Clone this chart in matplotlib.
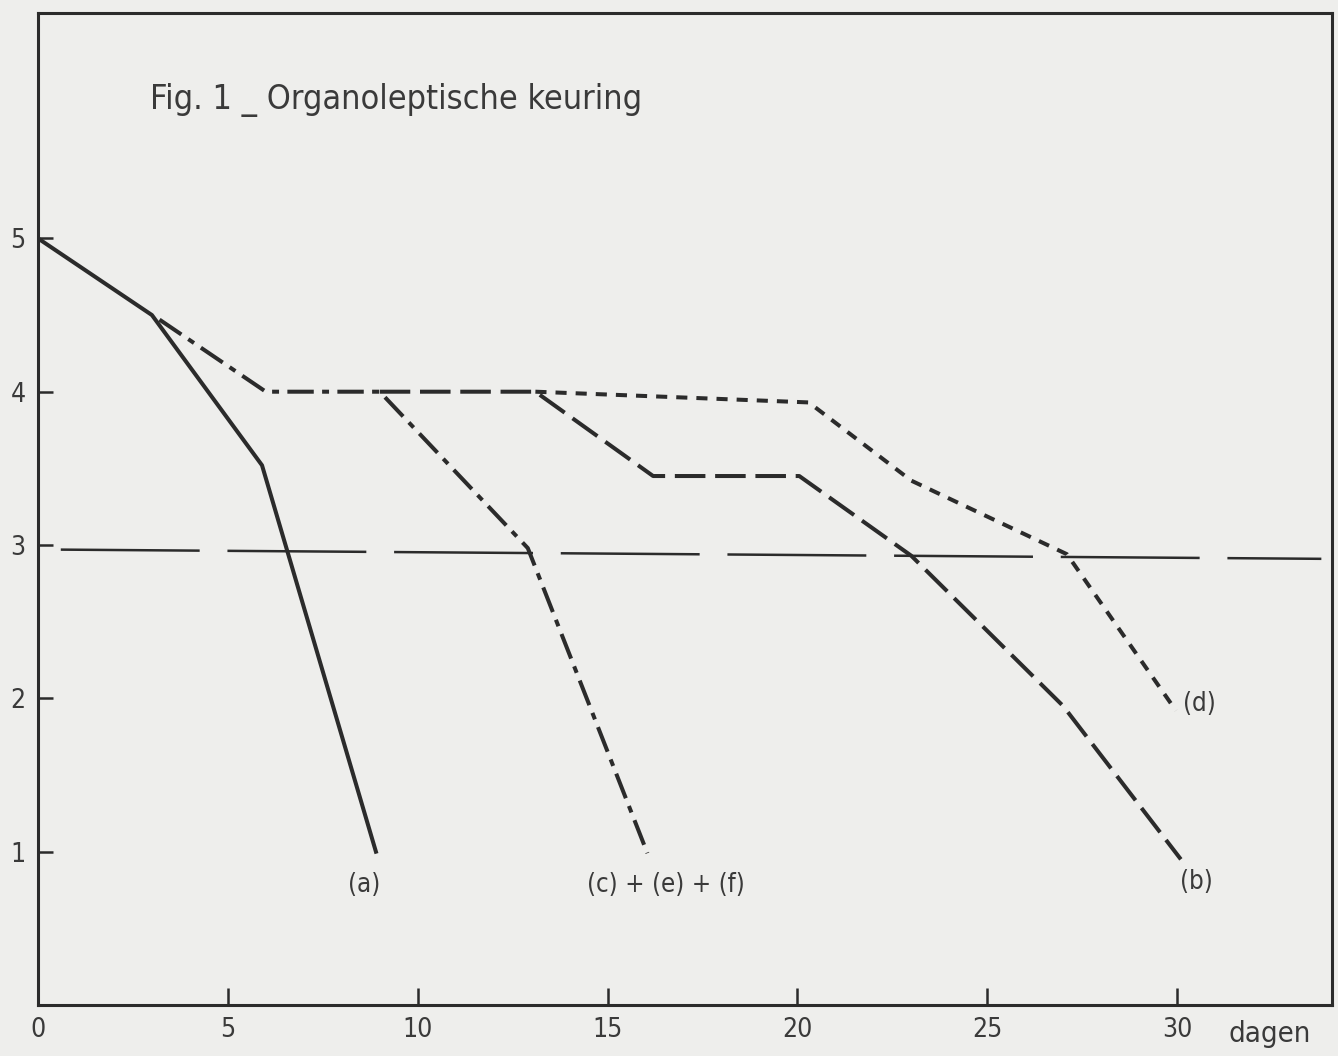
import matplotlib
matplotlib.use("Agg")
import matplotlib.pyplot as plt

# ---- data ----
a_x = [0, 3, 5.9, 8.9]
a_y = [5.0, 4.5, 3.52, 1.0]

c_x = [3.2, 6, 9, 12.9, 16.05]
c_y = [4.47, 4.0, 4.0, 2.98, 0.99]

b_x = [9, 13.1, 16.2, 20.05, 23.0, 27.0, 30.1]
b_y = [4.0, 4.0, 3.45, 3.45, 2.93, 1.95, 0.95]

d_x = [13.1, 20.3, 23.0, 27.1, 29.97]
d_y = [4.0, 3.93, 3.42, 2.94, 1.92]

thr_x = [0.6, 33.8]
thr_y = [2.97, 2.91]

x_ticks = [0, 5, 10, 15, 20, 25, 30]
y_ticks = [1, 2, 3, 4, 5]

title_text = "Fig. 1 _ Organoleptische keuring"
labels = [("(a)", 8.6, 0.78), ("(c) + (e) + (f)", 16.55, 0.78),
          ("(b)", 30.5, 0.80), ("(d)", 30.6, 1.96)]

# ---- style ----
plt.rcParams['lines.scale_dashes'] = False
plt.rcParams['font.family'] = ['DejaVu Sans']
plt.rcParams['font.stretch'] = 'condensed'
ink = '#2b2b2b'
txt = '#3a3a3a'
bg = '#eeeeec'

fig = plt.figure(figsize=(13.38, 10.56), dpi=100, facecolor=bg)
ax = fig.add_axes([0.0284, 0.0483, 0.9671, 0.9394], facecolor=bg)
ax.set_xlim(0, 34.08)
ax.set_ylim(0, 6.47)

for s in ax.spines.values():
    s.set_linewidth(2.2)
    s.set_color(ink)

ax.plot(thr_x, thr_y, color=ink, lw=1.8, dashes=(100, 20))
ax.plot(a_x, a_y, color=ink, lw=2.9, solid_joinstyle='round')
ax.plot(c_x, c_y, color=ink, lw=2.9, dashes=(19, 6, 5, 6))
ax.plot(b_x, b_y, color=ink, lw=2.9, dashes=(22, 7))
ax.plot(d_x, d_y, color=ink, lw=2.9, dashes=(8, 6.5))

ax.set_xticks(x_ticks)
ax.set_xticklabels([str(v) for v in x_ticks])
ax.set_yticks(y_ticks)
ax.set_yticklabels([str(v) for v in y_ticks])
ax.tick_params(axis='x', direction='in', length=12, width=1.8, color=ink,
               labelsize=19, labelcolor=txt, pad=9)
ax.tick_params(axis='y', direction='in', length=11, width=1.8, color=ink,
               labelsize=19, labelcolor=txt, pad=9)

ax.text(32.45, -0.1, "dagen", ha='center', va='top', fontsize=21,
        color=txt, clip_on=False)

ax.text(2.95, 5.9, title_text, ha='left', va='center', fontsize=24.5,
        color=txt)

for s, x, y in labels:
    ax.text(x, y, s, ha='center', va='center', fontsize=18.5, color=txt)

fig.savefig("out.png", dpi=100, facecolor=bg)
